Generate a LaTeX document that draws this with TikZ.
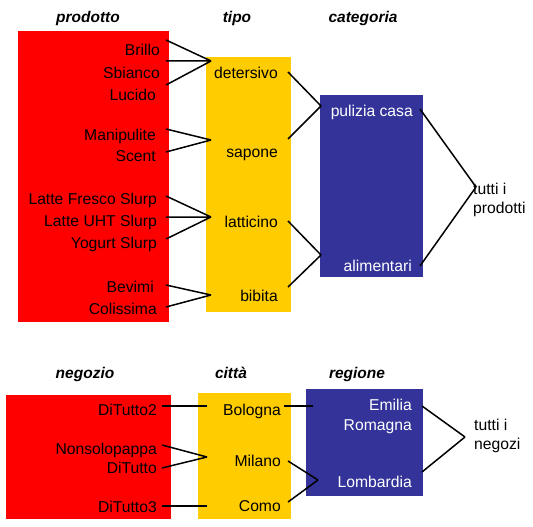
\documentclass[tikz,border=0pt]{standalone}
\usepackage{fontspec}
\setmainfont{Liberation Sans}
\begin{document}
\begin{tikzpicture}[x=1pt,y=-1pt,
  txt/.style={inner sep=0pt,font=\fontsize{15.7}{18.5}\selectfont,anchor=base east},
  ltxt/.style={inner sep=0pt,font=\fontsize{15.7}{18.5}\selectfont,anchor=base west},
  wtxt/.style={txt,text=white},
  hdr/.style={inner sep=0pt,font=\fontsize{15.5}{18}\selectfont\bfseries\itshape,anchor=base},
  conn/.style={line width=1.5pt,black},
  redbox/.style={fill=red,draw=none},
  yelbox/.style={fill={rgb,255:red,255;green,204;blue,0},draw=none},
  bluebox/.style={fill={rgb,255:red,51;green,51;blue,153},draw=none}]
\useasboundingbox (0,0) rectangle (533,527);
% ---------- top ----------
\path[redbox] (18,31) rectangle (169,322);
\path[yelbox] (206,57) rectangle (291,312);
\path[bluebox] (320,95) rectangle (423,277);
\node[hdr] (hprod) at (88,23) {prodotto};
\node[hdr] (htipo) at (237,23) {tipo};
\node[hdr] (hcat) at (363,23) {categoria};
\node[txt] (brillo) at (160,56) {Brillo};
\node[txt] (sbianco) at (160,78) {Sbianco};
\node[txt] (lucido) at (156,100) {Lucido};
\node[txt] (manip) at (156,140) {Manipulite};
\node[txt] (scent) at (156,161) {Scent};
\node[txt] (lfs) at (157,204) {Latte Fresco Slurp};
\node[txt] (luht) at (157,226) {Latte UHT Slurp};
\node[txt] (yog) at (157,248) {Yogurt Slurp};
\node[txt] (bevimi) at (154,292) {Bevimi};
\node[txt] (coliss) at (157,314) {Colissima};
\node[txt] (deters) at (278,78) {detersivo};
\node[txt] (sapone) at (278,157) {sapone};
\node[txt] (lattic) at (278,227) {latticino};
\node[txt] (bibita) at (278,301) {bibita};
\node[wtxt] (pulizia) at (413,116) {pulizia casa};
\node[wtxt] (aliment) at (412,271) {alimentari};
\node[ltxt,align=left,anchor=north west] (tuttip) at (473,183) {tutti i\\prodotti};
% endpoints
\coordinate (a1) at (166,40); \coordinate (a2) at (166,61); \coordinate (a3) at (166,85);
\coordinate (ta) at (211,61);
\coordinate (b1) at (166,129); \coordinate (b2) at (166,152); \coordinate (tb) at (211,140);
\coordinate (c1) at (166,196); \coordinate (c2) at (166,217); \coordinate (c3) at (166,239);
\coordinate (tc) at (211,217);
\coordinate (d1) at (166,285); \coordinate (d2) at (166,307); \coordinate (td) at (211,295);
\coordinate (e1) at (288,72); \coordinate (e2) at (288,139); \coordinate (te) at (321,106);
\coordinate (f1) at (288,221); \coordinate (f2) at (288,287); \coordinate (tf) at (321,255);
\coordinate (g1) at (420,109); \coordinate (g2) at (420,266); \coordinate (tg) at (476,187);
\draw[conn] (a1) -- (ta) (a2) -- (ta) (a3) -- (ta);
\draw[conn] (b1) -- (tb) (b2) -- (tb);
\draw[conn] (c1) -- (tc) (c2) -- (tc) (c3) -- (tc);
\draw[conn] (d1) -- (td) (d2) -- (td);
\draw[conn] (e1) -- (te) (e2) -- (te);
\draw[conn] (f1) -- (tf) (f2) -- (tf);
\draw[conn] (g1) -- (tg) (g2) -- (tg);
% ---------- bottom ----------
\path[redbox] (6,395) rectangle (171,519);
\path[yelbox] (198,393) rectangle (291,519);
\path[bluebox] (306,389) rectangle (423,496);
\node[hdr] (hneg) at (85,378) {negozio};
\node[hdr] (hcit) at (231,378) {città};
\node[hdr] (hreg) at (357,378) {regione};
\node[txt] (dt2) at (157,415) {DiTutto2};
\node[txt] (nsp) at (157,454) {Nonsolopappa};
\node[txt] (dt) at (157,473) {DiTutto};
\node[txt] (dt3) at (157,512) {DiTutto3};
\node[txt] (bol) at (281,415) {Bologna};
\node[txt] (mil) at (281,466) {Milano};
\node[txt] (como) at (281,511) {Como};
\node[wtxt] (emil) at (412,410) {Emilia};
\node[wtxt] (romag) at (412,430) {Romagna};
\node[wtxt] (lomb) at (412,487) {Lombardia};
\node[ltxt,align=left,anchor=north west] (tuttin) at (474,419) {tutti i\\negozi};
\coordinate (h1) at (162,406); \coordinate (th) at (207,406);
\coordinate (i1) at (162,445); \coordinate (i2) at (162,468); \coordinate (ti) at (207,457);
\coordinate (j1) at (162,506); \coordinate (tj) at (207,506);
\coordinate (k1) at (284,406); \coordinate (tk) at (313,406);
\coordinate (l1) at (288,461); \coordinate (l2) at (288,502); \coordinate (tl) at (318,480);
\coordinate (m1) at (422,406); \coordinate (m2) at (422,472); \coordinate (tm) at (465,437);
\draw[conn] (h1) -- (th);
\draw[conn] (i1) -- (ti) (i2) -- (ti);
\draw[conn] (j1) -- (tj);
\draw[conn] (k1) -- (tk);
\draw[conn] (l1) -- (tl) (l2) -- (tl);
\draw[conn] (m1) -- (tm) (m2) -- (tm);
\end{tikzpicture}
\end{document}
